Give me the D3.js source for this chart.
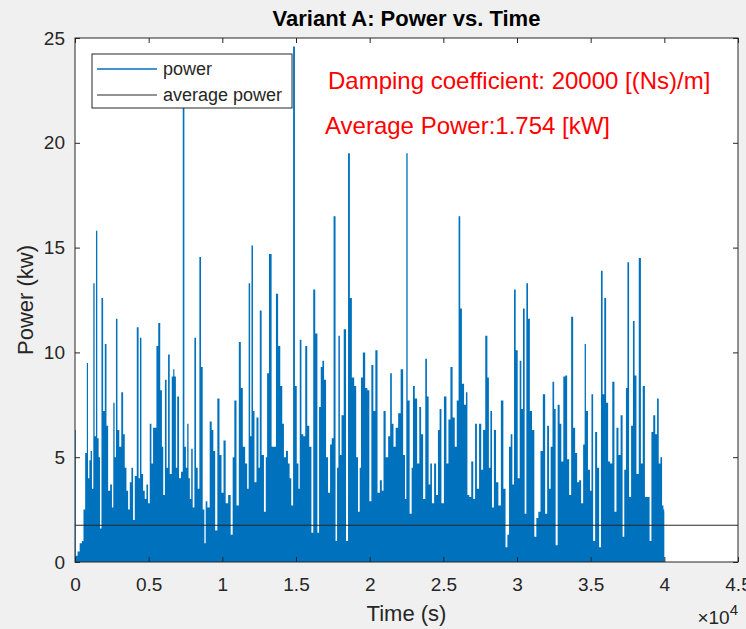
<!DOCTYPE html>
<html>
<head>
<meta charset="utf-8">
<script src="https://cdn.jsdelivr.net/npm/d3@7"></script>
<style>
  html, body { margin: 0; padding: 0; background: #f0f0f0; }
  svg { display: block; font-family: "Liberation Sans", Arial, Helvetica, sans-serif; }
</style>
</head>
<body>
<div id="container"></div>
<script>
// time samples (s) and power (kW)
let timeS = [
  0, 100, 250, 385, 540, 610, 770, 835, 930, 1017, 1107, 1197, 1288, 1378, 1469, 1559, 1650, 1740, 1853, 1966,
  2080, 2193, 2305, 2463, 2554, 2644, 2734, 2825, 2938, 3074, 3209, 3322, 3435, 3548, 3661, 3774, 3887, 4000, 4113, 4271,
  4362, 4452, 4565, 4678, 4791, 4904, 5017, 5130, 5243, 5356, 5469, 5582, 5718, 5853, 5944, 6034, 6170, 6260, 6373, 6486,
  6644, 6690, 6802, 6893, 6983, 7141, 7255, 7368, 7481, 7571, 7661, 7752, 7842, 7933, 8046, 8159, 8272, 8385, 8498, 8611,
  8724, 8837, 8905, 9062, 9221, 9334, 9447, 9582, 9740, 9876, 10012, 10147, 10306, 10486, 10645, 10758, 10871, 11051, 11187, 11323,
  11458, 11639, 11729, 11842, 11933, 12023, 12136, 12227, 12407, 12498, 12588, 12746, 12904, 12994, 13085, 13243, 13446, 13560, 13718, 13853,
  14011, 14124, 14238, 14396, 14509, 14622, 14735, 14871, 14984, 15119, 15210, 15300, 15436, 15549, 15707, 15820, 15978, 16114, 16227, 16385,
  16520, 16611, 16747, 16837, 16973, 17108, 17244, 17380, 17470, 17628, 17741, 17831, 17922, 18035, 18148, 18329, 18464, 18600, 18713, 18871,
  19029, 19142, 19278, 19368, 19459, 19617, 19775, 19911, 20047, 20183, 20318, 20454, 20612, 20770, 20883, 20996, 21176, 21335, 21448, 21561,
  21674, 21855, 22013, 22193, 22352, 22442, 22532, 22623, 22803, 22894, 22984, 23142, 23301, 23436, 23549, 23707, 23843, 23933, 24069, 24159,
  24295, 24453, 24566, 24702, 24792, 24950, 25131, 25289, 25402, 25561, 25696, 25854, 25967, 26103, 26193, 26329, 26487, 26578, 26691, 26827,
  26962, 27098, 27211, 27347, 27505, 27641, 27754, 27934, 28047, 28137, 28250, 28363, 28499, 28657, 28815, 28996, 29154, 29290, 29403, 29516,
  29629, 29742, 29855, 29968, 30126, 30239, 30352, 30465, 30578, 30691, 30804, 30940, 31098, 31256, 31369, 31527, 31663, 31844, 31979, 32115,
  32228, 32341, 32476, 32567, 32680, 32838, 32951, 33064, 33222, 33336, 33472, 33607, 33743, 33879, 34014, 34150, 34285, 34421, 34557, 34624,
  34737, 34896, 35009, 35100, 35235, 35371, 35507, 35642, 35755, 35868, 35981, 36117, 36253, 36388, 36546, 36682, 36817, 36953, 37111, 37224,
  37337, 37450, 37541, 37676, 37812, 37925, 38038, 38174, 38354, 38467, 38603, 38761, 38920, 39078, 39168, 39326, 39439, 39575, 39666, 39801,
  39892, 39982, 40000
]
let powerKW = [
  6.3, 0.3, 0.5, 0.9, 1.0, 2.5, 5.2, 9.5, 4.0, 4.85, 5.3, 3.5, 13.3, 6.0, 15.8, 5.9, 5.0, 1.6, 12.6, 7.2,
  10.4, 6.5, 3.4, 3.7, 2.6, 7.6, 5.0, 11.6, 6.3, 5.5, 8.1, 6.1, 4.5, 3.4, 2.5, 3.8, 4.5, 2.0, 4.1, 11.2,
  4.0, 10.7, 4.2, 3.4, 3.0, 3.7, 2.8, 6.6, 4.7, 6.4, 6.4, 10.3, 11.4, 8.2, 5.5, 3.2, 8.7, 4.5, 9.9, 4.2,
  8.85, 9.2, 8.85, 4.5, 7.9, 4.0, 4.3, 22.5, 5.5, 4.5, 6.6, 4.0, 3.0, 5.4, 2.6, 10.7, 4.5, 3.5, 14.55, 9.3,
  2.5, 0.9, 2.9, 2.6, 6.7, 6.3, 5.3, 1.5, 7.8, 5.1, 3.3, 5.8, 2.8, 3.2, 1.3, 5.0, 7.7, 2.7, 10.5, 8.3,
  5.5, 4.7, 3.5, 13.3, 6.0, 15.1, 7.2, 3.8, 6.9, 4.5, 12.0, 5.1, 2.4, 5.0, 9.0, 14.7, 5.5, 5.5, 12.8, 10.3,
  8.4, 6.6, 5.0, 5.3, 4.7, 4.0, 2.7, 24.6, 8.4, 4.7, 3.5, 10.6, 6.1, 6.0, 10.3, 6.5, 5.5, 1.4, 13.0, 10.9,
  1.4, 7.4, 9.3, 9.6, 8.7, 5.0, 3.3, 5.6, 5.9, 16.5, 1.0, 4.5, 10.8, 5.1, 7.0, 11.1, 1.0, 19.5, 12.6, 8.8,
  8.4, 5.0, 2.4, 4.5, 8.8, 10.0, 8.3, 8.2, 2.9, 9.4, 7.2, 10.1, 3.3, 3.9, 3.4, 7.2, 5.0, 6.0, 9.0, 6.6,
  5.5, 6.4, 7.1, 9.2, 5.1, 3.0, 19.5, 7.7, 2.3, 4.5, 8.4, 7.8, 4.7, 7.4, 6.1, 3.0, 9.7, 7.9, 3.7, 4.7,
  2.8, 4.7, 3.2, 6.3, 7.3, 2.8, 7.9, 4.7, 6.8, 9.3, 6.9, 5.5, 7.7, 16.5, 12.1, 8.5, 7.5, 8.1, 3.2, 3.1,
  4.8, 3.0, 6.6, 3.5, 6.6, 4.4, 6.3, 10.8, 8.8, 4.5, 7.2, 2.6, 6.3, 3.8, 2.7, 7.7, 3.5, 0.7, 1.3, 5.5,
  6.1, 3.7, 13.0, 10.1, 4.0, 9.6, 7.3, 12.1, 2.3, 13.3, 11.6, 7.2, 6.3, 1.2, 2.1, 2.4, 5.3, 8.0, 2.3, 6.5,
  3.5, 5.5, 8.6, 7.3, 0.8, 7.5, 6.6, 4.8, 8.85, 8.9, 4.9, 3.2, 11.7, 6.4, 5.2, 3.8, 3.9, 2.8, 5.6, 10.4,
  7.2, 4.4, 3.4, 8.0, 1.0, 6.2, 4.5, 0.7, 13.9, 8.0, 12.6, 7.6, 4.8, 4.7, 8.6, 2.4, 6.4, 5.1, 7.0, 1.2,
  4.4, 8.3, 14.3, 3.1, 6.5, 11.5, 8.9, 4.2, 14.5, 4.7, 8.4, 3.1, 3.1, 1.0, 6.2, 7.0, 6.1, 7.8, 4.7, 5.0,
  2.7, 2.5, 2.4
]
let avgPower = 1.754
let xTicks = [0, 0.5, 1, 1.5, 2, 2.5, 3, 3.5, 4, 4.5]   // x 10^4 s
let yTicks = [0, 5, 10, 15, 20, 25]

let width = 746,
  height = 629,
  margin = { top: 38, left: 75, right: 8, bottom: 67 }

let data = timeS.map(function (t, i) { return { t: t, v: powerKW[i] } })

let svg = d3.select('#container')
  .append('svg')
  .attr('width', width)
  .attr('height', height)

let x = d3.scaleLinear()
  .domain([0, 45000])
  .range([margin.left, width - margin.right])

let y = d3.scaleLinear()
  .domain([0, 25])
  .range([height - margin.bottom, margin.top])

// axes background
svg.append('rect')
  .attr('x', x(0)).attr('y', y(25))
  .attr('width', x(45000) - x(0)).attr('height', y(0) - y(25))
  .style('fill', '#fff')

// power series, one column per sample
let area = d3.area()
  .x(function (d) { return x(d.t) })
  .y0(y(0))
  .y1(function (d) { return y(d.v) })
  .curve(d3.curveStep)

svg.append('path')
  .datum(data)
  .attr('d', area)
  .style('fill', '#0072bd')

// average power line
svg.append('line')
  .attr('x1', x(0)).attr('x2', x(45000))
  .attr('y1', y(avgPower)).attr('y2', y(avgPower))
  .style('stroke', '#262626')
  .style('stroke-width', 1)

// axes (ticks inside, box on)
let axisColor = '#262626'
let xb = svg.append('g')
  .attr('transform', 'translate(0,' + y(0) + ')')
  .call(d3.axisBottom(x).tickValues(xTicks.map(function (d) { return d * 1e4 }))
    .tickFormat(function (d) { return d / 1e4 }).tickSizeInner(-5).tickSizeOuter(0).tickPadding(16))
let xt = svg.append('g')
  .attr('transform', 'translate(0,' + y(25) + ')')
  .call(d3.axisTop(x).tickValues(xTicks.map(function (d) { return d * 1e4 }))
    .tickFormat('').tickSizeInner(-5).tickSizeOuter(0))
let yl = svg.append('g')
  .attr('transform', 'translate(' + x(0) + ',0)')
  .call(d3.axisLeft(y).tickValues(yTicks).tickSizeInner(-5).tickSizeOuter(0).tickPadding(10))
let yr = svg.append('g')
  .attr('transform', 'translate(' + x(45000) + ',0)')
  .call(d3.axisRight(y).tickValues(yTicks).tickFormat('').tickSizeInner(-5).tickSizeOuter(0))

;[xb, xt, yl, yr].forEach(function (g) {
  g.selectAll('.domain').remove()
  g.selectAll('line').style('stroke', axisColor)
  g.selectAll('text')
    .style('fill', axisColor)
    .style('font-size', '19px')
    .style('font-family', '"Liberation Sans", Arial, sans-serif')
})

svg.append('rect')
  .attr('x', x(0)).attr('y', y(25))
  .attr('width', x(45000) - x(0)).attr('height', y(0) - y(25))
  .style('fill', 'none')
  .style('stroke', axisColor)
  .style('stroke-width', 1)

// labels
svg.append('text')
  .text('Variant A: Power vs. Time')
  .attr('x', (x(0) + x(45000)) / 2)
  .attr('y', 26)
  .style('text-anchor', 'middle')
  .style('font-weight', 'bold')
  .style('font-size', '22px')
  .style('fill', '#000')

svg.append('text')
  .text('Time (s)')
  .attr('x', (x(0) + x(45000)) / 2)
  .attr('y', 621)
  .style('text-anchor', 'middle')
  .style('font-size', '22px')
  .style('fill', axisColor)

let expo = svg.append('text')
  .attr('x', x(45000))
  .attr('y', 624)
  .style('text-anchor', 'end')
  .style('font-size', '19px')
  .style('fill', axisColor)
expo.append('tspan').text('\u00d710')
expo.append('tspan').text('4').attr('dy', -9).style('font-size', '15px')

svg.append('text')
  .text('Power (kw)')
  .attr('transform', 'translate(33,' + (y(0) + y(25)) / 2 + ') rotate(-90)')
  .style('text-anchor', 'middle')
  .style('font-size', '22px')
  .style('fill', axisColor)

// annotations
svg.append('text')
  .text('Damping coefficient: 20000 [(Ns)/m]')
  .attr('x', 328).attr('y', 89)
  .style('font-size', '24px')
  .style('fill', '#ff0000')

svg.append('text')
  .text('Average Power:1.754 [kW]')
  .attr('x', 325).attr('y', 134)
  .style('font-size', '24px')
  .style('fill', '#ff0000')

// legend
let legend = svg.append('g')
  .attr('transform', 'translate(92,54)')
legend.append('rect')
  .attr('width', 200).attr('height', 54)
  .style('fill', '#fff')
  .style('stroke', axisColor)
  .style('stroke-width', 1)
let legendItems = [
  { name: 'power', color: '#0072bd' },
  { name: 'average power', color: '#262626' }
]
legendItems.forEach(function (d, i) {
  let ly = 15 + i * 26
  legend.append('line')
    .attr('x1', 5).attr('x2', 65)
    .attr('y1', ly).attr('y2', ly)
    .style('stroke', d.color)
    .style('stroke-width', i === 0 ? 1.5 : 1)
  legend.append('text')
    .text(d.name)
    .attr('x', 71).attr('y', ly + 6)
    .style('font-size', '18px')
    .style('fill', axisColor)
})
</script>
</body>
</html>
